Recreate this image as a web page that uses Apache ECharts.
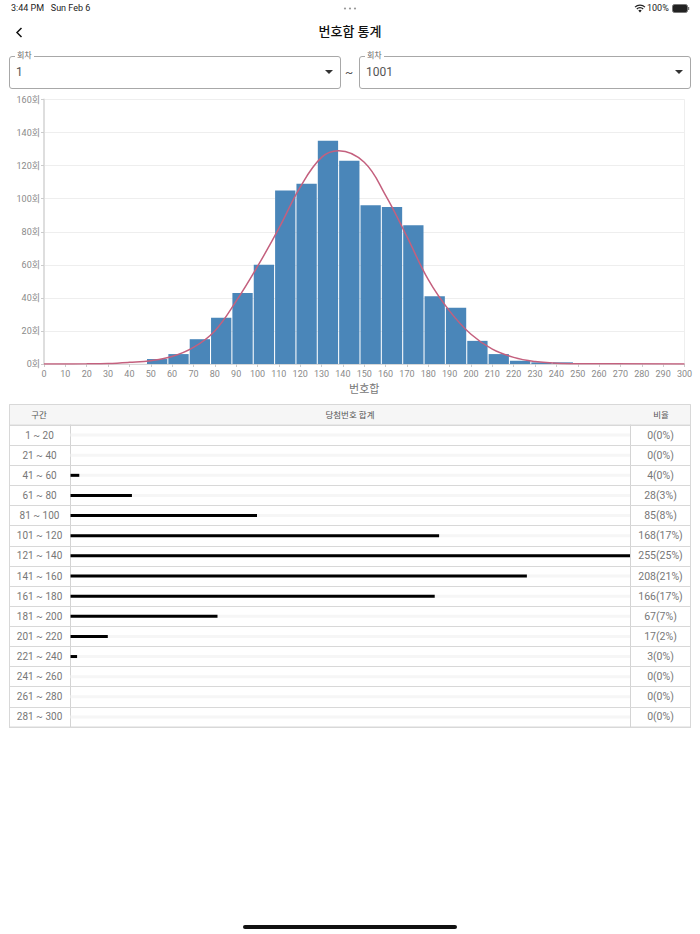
<!DOCTYPE html>
<html>
<head>
<meta charset="utf-8">
<title>번호합 통계</title>
<script src="https://cdn.jsdelivr.net/npm/echarts@6/dist/echarts.min.js"></script>
<style>
  html, body { margin: 0; padding: 0; background: #fff; }
  body { width: 700px; height: 934px; position: relative; overflow: hidden;
    font-family: Roboto, "Noto Sans CJK KR", sans-serif; color: #222; }
  #chart { position: absolute; left: 0; top: 0; width: 700px; height: 934px; }
  .abs { position: absolute; white-space: nowrap; display: block; }
  .select { position: absolute; top: 56px; width: 330px; height: 31px; border: 1px solid #a8a8a8; border-radius: 3px; }
  .select .legend { position: absolute; left: 5px; top: -6px; padding: 0 2px; background: #fff; font-size: 8px; line-height: 10px; color: #666; }
  .select .value { position: absolute; left: 6px; top: 8px; font-size: 12px; line-height: 15px; color: #555; }
  .select .arrow { position: absolute; right: 7px; top: 13px; width: 0; height: 0;
    border-left: 4px solid transparent; border-right: 4px solid transparent; border-top: 4.5px solid #333; }
</style>
</head>
<body>
<div id="chart"></div>

<div class="abs" style="left:11px;top:3px;font-size:9px;line-height:11px;color:#222">3:44 PM&nbsp;&nbsp; Sun Feb 6</div>
<svg class="abs" style="left:343px;top:7px" width="14" height="3">
  <circle cx="2" cy="1.5" r="1.1" fill="#999"/><circle cx="7" cy="1.5" r="1.1" fill="#999"/><circle cx="12" cy="1.5" r="1.1" fill="#999"/>
</svg>
<svg class="abs" style="left:634px;top:4px" width="12" height="9" viewBox="0 0 12 9">
  <path d="M1 3.2 A7 7 0 0 1 11 3.2" fill="none" stroke="#222" stroke-width="1.2"/>
  <path d="M2.8 5 A4.5 4.5 0 0 1 9.2 5" fill="none" stroke="#222" stroke-width="1.2"/>
  <path d="M6 8.6 L4.3 6.6 A2.4 2.4 0 0 1 7.7 6.6 Z" fill="#222"/>
</svg>
<div class="abs" style="left:647px;top:3px;font-size:9px;line-height:11px;color:#222">100%</div>
<svg class="abs" style="left:672px;top:4px" width="18" height="9" viewBox="0 0 18 9">
  <rect x="0.5" y="0.5" width="15" height="8" rx="2" fill="#222" stroke="#777"/>
  <rect x="16" y="3" width="1.2" height="3" fill="#777"/>
</svg>

<svg class="abs" style="left:15px;top:27px" width="8" height="11" viewBox="0 0 8 11">
  <path d="M6.5 1 L2 5.5 L6.5 10" fill="none" stroke="#111" stroke-width="1.5"/>
</svg>
<div class="abs" style="left:250px;width:200px;top:22px;text-align:center;font-size:13px;line-height:19px;font-weight:500;color:#111">번호합 통계</div>

<div class="select" style="left:9px">
  <div class="legend">회차</div><div class="value">1</div><div class="arrow"></div>
</div>
<div class="abs" style="left:345px;top:66px;font-size:12px;line-height:15px;color:#555">~</div>
<div class="select" style="left:359px">
  <div class="legend">회차</div><div class="value">1001</div><div class="arrow"></div>
</div>

<div class="abs" style="left:243px;top:925px;width:214px;height:4px;border-radius:2px;background:#111"></div>

<script>
// 히스토그램 데이터
const binStarts = [50, 60, 70, 80, 90, 100, 110, 120, 130, 140, 150, 160, 170, 180, 190, 200, 210, 220, 230, 240];
const binCounts = [3, 6, 15, 28, 43, 60, 105, 109, 135, 123, 96, 95, 84, 41, 34, 14, 6, 2, 1, 1];
const curveX = [0, 20, 30, 40, 50, 60, 70, 80, 90, 100, 110, 120, 130, 138, 150, 160, 170, 180, 190, 200, 210, 220, 230, 240, 250, 300];
const curveY = [0, 0.1, 0.3, 1, 2, 4.5, 10, 20, 38, 59, 82, 107, 125, 129, 122, 102, 77, 51, 32, 18, 9, 4, 1.5, 0.5, 0.2, 0];

// 구간 테이블 데이터
const rangeLabels = ['1 ~ 20', '21 ~ 40', '41 ~ 60', '61 ~ 80', '81 ~ 100', '101 ~ 120', '121 ~ 140', '141 ~ 160',
  '161 ~ 180', '181 ~ 200', '201 ~ 220', '221 ~ 240', '241 ~ 260', '261 ~ 280', '281 ~ 300'];
const rangeCounts = [0, 0, 4, 28, 85, 168, 255, 208, 166, 67, 17, 3, 0, 0, 0];
const rangeRatios = ['0(0%)', '0(0%)', '4(0%)', '28(3%)', '85(8%)', '168(17%)', '255(25%)', '208(21%)',
  '166(17%)', '67(7%)', '17(2%)', '3(0%)', '0(0%)', '0(0%)', '0(0%)'];

const FONT = 'Roboto, "Noto Sans CJK KR", sans-serif';
const BIN_SHIFT = 3; // 막대가 눈금보다 살짝 오른쪽에 그려짐

const chart = echarts.init(document.getElementById('chart'), null, {renderer: 'svg'});

chart.setOption({
  animation: false,
  textStyle: {fontFamily: FONT},
  grid: [
    {left: 44, top: 99.5, width: 640.5, height: 264.5, show: true, borderColor: '#eeeeee', borderWidth: 1},
    {left: 70.5, top: 425, width: 559.5, height: 302, show: false}
  ],
  xAxis: [
    {
      type: 'value', gridIndex: 0, min: 0, max: 300, interval: 10,
      name: '번호합', nameLocation: 'middle', nameGap: 20,
      nameTextStyle: {fontSize: 11, color: '#777'},
      axisLine: {show: true, lineStyle: {color: '#d8d8d8'}},
      axisTick: {show: true, length: 3, lineStyle: {color: '#cccccc'}},
      axisLabel: {fontSize: 9, color: '#8a8a8a', margin: 5, hideOverlap: false},
      splitLine: {show: false}
    },
    {
      type: 'value', gridIndex: 1, min: 0, max: 255, show: false
    }
  ],
  yAxis: [
    {
      type: 'value', gridIndex: 0, min: 0, max: 160, interval: 20,
      axisLine: {show: true, lineStyle: {color: '#dedede', width: 2}},
      axisTick: {show: true, length: 3, lineStyle: {color: '#cccccc'}},
      axisLabel: {fontSize: 9, color: '#8a8a8a', margin: 4, formatter: '{value}회'},
      splitLine: {show: true, lineStyle: {color: '#eeeeee'}}
    },
    {
      type: 'category', gridIndex: 1, inverse: true, data: rangeLabels, position: 'left',
      axisLine: {show: true, lineStyle: {color: '#d4d4d4'}},
      axisTick: {show: true, length: 61.5, lineStyle: {color: '#d8d8d8'}},
      axisLabel: {fontSize: 10, color: '#777', align: 'center', margin: 31, interval: 0},
      splitLine: {show: true, interval: 0, lineStyle: {color: '#d8d8d8'}}
    },
    {
      type: 'category', gridIndex: 1, inverse: true, data: rangeRatios, position: 'right',
      axisLine: {show: true, lineStyle: {color: '#d4d4d4'}},
      axisTick: {show: true, length: 61, lineStyle: {color: '#d8d8d8'}},
      axisLabel: {fontSize: 10.5, color: '#777', align: 'center', margin: 30.5, interval: 0},
      splitLine: {show: false}
    }
  ],
  series: [
    {
      type: 'bar', xAxisIndex: 0, yAxisIndex: 0, barWidth: 20.3,
      data: binStarts.map((s, i) => [s + BIN_SHIFT, binCounts[i]]),
      itemStyle: {color: '#4a86b9'},
      z: 2
    },
    {
      type: 'line', xAxisIndex: 0, yAxisIndex: 0, smooth: 0.4, showSymbol: false,
      data: curveX.map((x, i) => [x, curveY[i]]),
      lineStyle: {color: '#c4607e', width: 1.5},
      z: 3
    },
    {
      type: 'bar', xAxisIndex: 1, yAxisIndex: 1, barWidth: 3,
      data: rangeCounts,
      showBackground: true,
      backgroundStyle: {color: '#f6f6f6'},
      itemStyle: {color: '#000000'},
      z: 2
    }
  ],
  graphic: [
    {type: 'rect', silent: true, z: -1, shape: {x: 9.5, y: 404.5, width: 681, height: 20.5},
      style: {fill: '#f6f6f6', stroke: '#dddddd', lineWidth: 1}},
    {type: 'rect', silent: true, z: 0, shape: {x: 9.5, y: 404.5, width: 681, height: 322.5},
      style: {fill: 'none', stroke: '#d8d8d8', lineWidth: 1}},
    {type: 'text', silent: true, x: 39, y: 414.5,
      style: {text: '구간', fontSize: 8.5, fill: '#555', align: 'center', verticalAlign: 'middle', fontFamily: FONT}},
    {type: 'text', silent: true, x: 350, y: 414.5,
      style: {text: '당첨번호 합계', fontSize: 8.5, fill: '#555', align: 'center', verticalAlign: 'middle', fontFamily: FONT}},
    {type: 'text', silent: true, x: 661, y: 414.5,
      style: {text: '비율', fontSize: 8.5, fill: '#555', align: 'center', verticalAlign: 'middle', fontFamily: FONT}}
  ]
});
</script>
</body>
</html>
